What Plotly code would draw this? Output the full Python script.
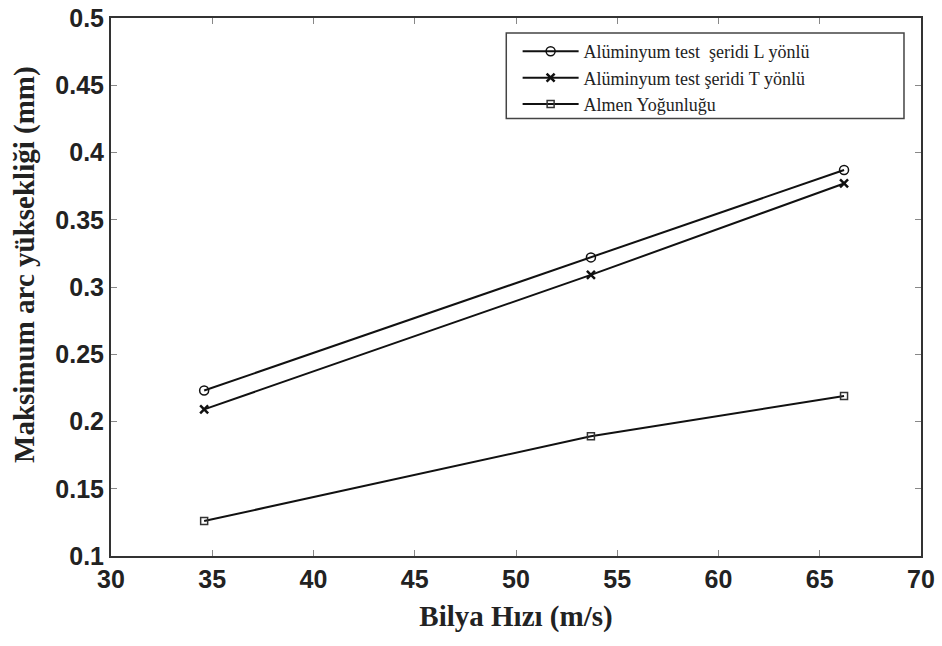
import plotly.graph_objects as go

speed = [34.6, 53.7, 66.2]
arc_L = [0.223, 0.322, 0.387]
arc_T = [0.209, 0.309, 0.377]
almen = [0.126, 0.189, 0.219]

names = ["Alüminyum test  şeridi L yönlü", "Alüminyum test şeridi T yönlü", "Almen Yoğunluğu"]
x_ticks = [30, 35, 40, 45, 50, 55, 60, 65, 70]
y_ticks = [0.1, 0.15, 0.2, 0.25, 0.3, 0.35, 0.4, 0.45, 0.5]
x_title = "Bilya Hızı (m/s)"
y_title = "Maksimum arc yüksekliği (mm)"

fig = go.Figure()
fig.add_trace(go.Scatter(x=speed, y=arc_L, mode="lines+markers", name=names[0],
                         line=dict(color="#111", width=2),
                         marker=dict(symbol="circle-open", size=9, color="#111", line=dict(width=1.5))))
fig.add_trace(go.Scatter(x=speed, y=arc_T, mode="lines+markers", name=names[1],
                         line=dict(color="#111", width=2),
                         marker=dict(symbol="x-thin-open", size=8, color="#111", line=dict(width=2.5))))
fig.add_trace(go.Scatter(x=speed, y=almen, mode="lines+markers", name=names[2],
                         line=dict(color="#111", width=2),
                         marker=dict(symbol="square-open", size=7, color="#333", line=dict(width=1.5))))

tick_font = dict(family="Liberation Sans, Arial, sans-serif", size=25, color="#222", weight="bold")
title_font = dict(family="Liberation Serif, Times New Roman, serif", size=29, color="#222", weight="bold")

fig.update_layout(
    width=942, height=646,
    margin=dict(l=111, r=21, t=18, b=90),
    paper_bgcolor="white", plot_bgcolor="white",
    showlegend=True,
    legend=dict(x=0.502, y=0.972, xanchor="left", yanchor="top",
                borderwidth=0, bgcolor="rgba(0,0,0,0)",
                font=dict(family="Liberation Serif, Times New Roman, serif", size=18, color="#222"),
                tracegroupgap=0, itemwidth=56),
    shapes=[dict(type="rect", xref="paper", yref="paper", x0=0.488, x1=0.979, y0=0.813, y1=0.972,
                 line=dict(color="#444", width=1.5), fillcolor="rgba(0,0,0,0)", layer="above")],
    annotations=[dict(text=y_title, xref="paper", yref="paper", x=0, y=0.541,
                      xanchor="center", yanchor="middle", xshift=-86, textangle=-90,
                      showarrow=False, font=title_font)],
)
fig.update_xaxes(range=[30, 70], tickvals=x_ticks, ticktext=[str(v) for v in x_ticks],
                 automargin=False,
                 showgrid=False, zeroline=False, showline=True, linecolor="#333", linewidth=2,
                 mirror="ticks", ticks="inside", ticklen=6, tickcolor="#888", tickwidth=1,
                 tickfont=tick_font,
                 title=dict(text=x_title, font=title_font, standoff=14))
fig.update_yaxes(range=[0.1, 0.5], tickvals=y_ticks, ticktext=[f"{v:g}" for v in y_ticks],
                 automargin=False,
                 showgrid=False, zeroline=False, showline=True, linecolor="#333", linewidth=2,
                 mirror="ticks", ticks="inside", ticklen=6, tickcolor="#888", tickwidth=1,
                 tickfont=tick_font)

fig.write_html("out.html", config={"displayModeBar": False},
               post_script="document.body.style.margin='0';")
